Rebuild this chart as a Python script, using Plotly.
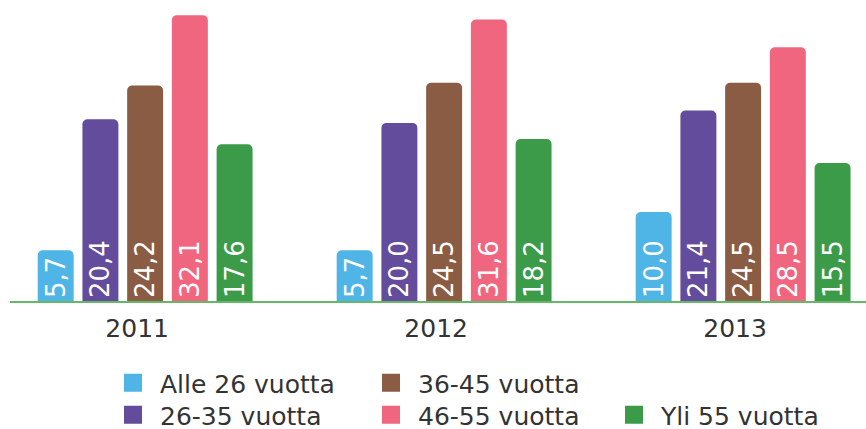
import plotly.graph_objects as go

years = ["2011", "2012", "2013"]
series_names = ["Alle 26 vuotta", "26-35 vuotta", "36-45 vuotta", "46-55 vuotta", "Yli 55 vuotta"]
alle26 = [5.7, 5.7, 10.0]
v26_35 = [20.4, 20.0, 21.4]
v36_45 = [24.2, 24.5, 24.5]
v46_55 = [32.1, 31.6, 28.5]
yli55 = [17.6, 18.2, 15.5]
series_values = [alle26, v26_35, v36_45, v46_55, yli55]
colors = ["#4fb4e6", "#634c9c", "#8a5c44", "#f0667f", "#3b9b49"]

FONT = "DejaVu Sans"
xpos = list(range(len(years)))
fig = go.Figure()
legend_ids = ["legend", "legend2", "legend3", "legend4", "legend5"]
for name, vals, col, lg in zip(series_names, series_values, colors, legend_ids):
    fig.add_trace(go.Bar(
        x=xpos, y=vals, name=name, marker_color=col, marker_line_width=0,
        text=[f"{v:.1f}".replace(".", ",") for v in vals],
        textposition="inside", insidetextanchor="start", textangle=-90,
        constraintext="none",
        textfont=dict(color="white", size=26, family=FONT),
        showlegend=False,
    ))
    # legend swatch
    fig.add_trace(go.Scatter(
        x=[None], y=[None], mode="markers", name=name,
        marker=dict(symbol="square", size=20, color=col, line=dict(color=col, width=2)),
        legend=lg, showlegend=True, hoverinfo="skip",
    ))

# legend positions in px (left of legend, vertical centre)
leg_pos = [(106, 383), (106, 415), (364, 383), (364, 415), (607, 415)]
legs = {}
for lg, (px, py) in zip(legend_ids, leg_pos):
    legs[lg] = dict(
        xref="container", yref="container",
        x=px / 866, y=1 - py / 429, xanchor="left", yanchor="middle",
        font=dict(size=25, family=FONT, color="#333333"),
        bgcolor="rgba(0,0,0,0)", itemclick=False, itemdoubleclick=False,
        itemwidth=44,
    )

fig.update_layout(
    width=866, height=429,
    margin=dict(l=10, r=0, t=0, b=128, autoexpand=False),
    paper_bgcolor="white", plot_bgcolor="white",
    barmode="group", bargap=0.252, bargroupgap=0.196, barcornerradius=5,
    showlegend=True,
    **legs,
)
fig.update_xaxes(
    range=[-0.452, 2.411], autorange=False,
    tickmode="array", tickvals=xpos, ticktext=years,
    showline=True, linecolor="#66b866", linewidth=2,
    showgrid=False, zeroline=False, ticks="",
    tickfont=dict(size=25, family=FONT, color="#333333"),
    ticklabelstandoff=4, ticklabelshift=-8, automargin=False,
)
fig.update_yaxes(range=[0, 33.8], autorange=False, visible=False, showgrid=False, zeroline=False)

fig.write_html(
    "out.html",
    config={"displayModeBar": False},
    post_script="document.body.style.margin='0';document.body.style.padding='0';document.body.style.overflow='hidden';",
)
